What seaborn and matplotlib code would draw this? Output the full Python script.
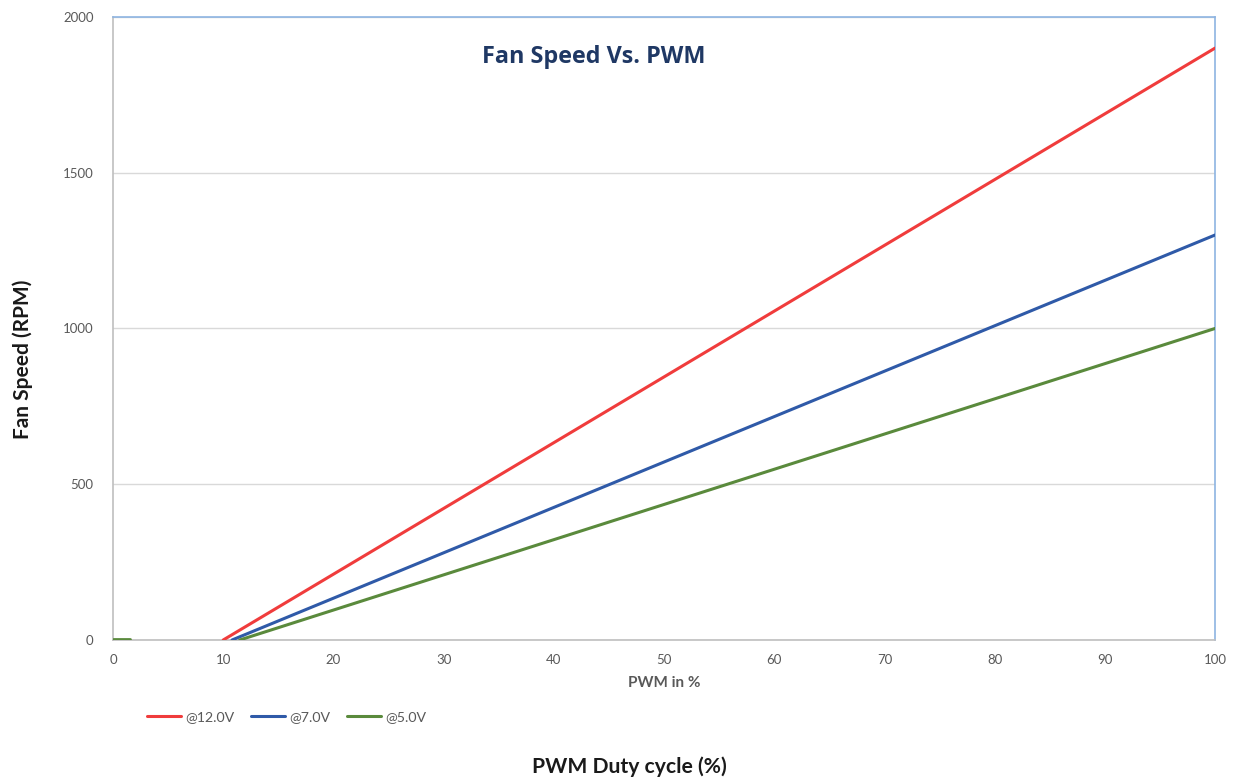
import matplotlib.pyplot as plt
import seaborn as sns
import pandas as pd
import numpy as np

# Fan speed data (PWM % -> RPM)
pwm_12v = [10, 100]
rpm_12v = [0, 1900]
pwm_7v = [10.8, 100]
rpm_7v = [0, 1300]
pwm_5v = [11.5, 100]
rpm_5v = [0, 1000]
# short stub of the 5V series sitting on the axis at the start
pwm_5v_stub = [0, 1.5]
rpm_5v_stub = [3, 3]

series_names = ['@12.0V', '@7.0V', '@5.0V']
colors = ['#f03c3c', '#2f5aa8', '#5a8a3c']

x_ticks = list(range(0, 101, 10))
y_ticks = [0, 500, 1000, 1500, 2000]

df = pd.concat([
    pd.DataFrame({'PWM': pwm_12v, 'RPM': rpm_12v, 'Supply': series_names[0]}),
    pd.DataFrame({'PWM': pwm_7v, 'RPM': rpm_7v, 'Supply': series_names[1]}),
    pd.DataFrame({'PWM': pwm_5v, 'RPM': rpm_5v, 'Supply': series_names[2]}),
])

sns.set_style('white')
plt.rcParams['font.family'] = ['Lato', 'DejaVu Sans']

fig = plt.figure(figsize=(12.35, 7.82), dpi=100)
ax = fig.add_axes([0.0915, 0.1816, 0.8923, 0.7967])

sns.lineplot(data=df, x='PWM', y='RPM', hue='Supply', hue_order=series_names,
             palette=colors, linewidth=2.2, ax=ax, legend=False, zorder=3)
sns.lineplot(x=pwm_5v_stub, y=rpm_5v_stub, color=colors[2], linewidth=2.0,
             ax=ax, legend=False, zorder=3)

ax.set_xlim(0, 100)
ax.set_ylim(0, 2000)
ax.set_xticks(x_ticks)
ax.set_yticks(y_ticks)
ax.grid(axis='y', color='#d9d9d9', linewidth=1)
ax.tick_params(axis='both', length=0, labelsize=9.5, labelcolor='#595959')
ax.tick_params(axis='x', pad=10)
ax.tick_params(axis='y', pad=14)

for side in ['left', 'bottom']:
    ax.spines[side].set_color('#bfbfbf')
    ax.spines[side].set_linewidth(1.2)
for side in ['top', 'right']:
    ax.spines[side].set_color('#8db4e2')
    ax.spines[side].set_linewidth(1.2)

ax.set_xlabel('PWM in %', fontsize=11, fontweight='bold', color='#595959', labelpad=7)
ax.set_ylabel('')

ax.text(0.436, 0.935, 'Fan Speed Vs. PWM', transform=ax.transAxes, ha='center',
        va='center', fontsize=16.8, fontweight='bold', color='#1f3864',
        family=['Open Sans', 'DejaVu Sans'])

fig.text(0.018, 0.54, 'Fan Speed (RPM)', rotation=90, ha='center', va='center',
         fontsize=15, fontweight='bold', color='#1a1a1a')
fig.text(0.51, 0.019, 'PWM Duty cycle (%)', ha='center', va='center',
         fontsize=15.2, fontweight='bold', color='#1a1a1a')

handles = [plt.Line2D([0], [0], color=c, linewidth=2.2) for c in colors]
fig.legend(handles, series_names, loc='center left', bbox_to_anchor=(0.109, 0.083),
           ncol=3, frameon=False, fontsize=10.2, handlelength=2.4, handletextpad=0.3,
           columnspacing=1.15, labelcolor='#595959')

fig.savefig('out.png', dpi=100)
